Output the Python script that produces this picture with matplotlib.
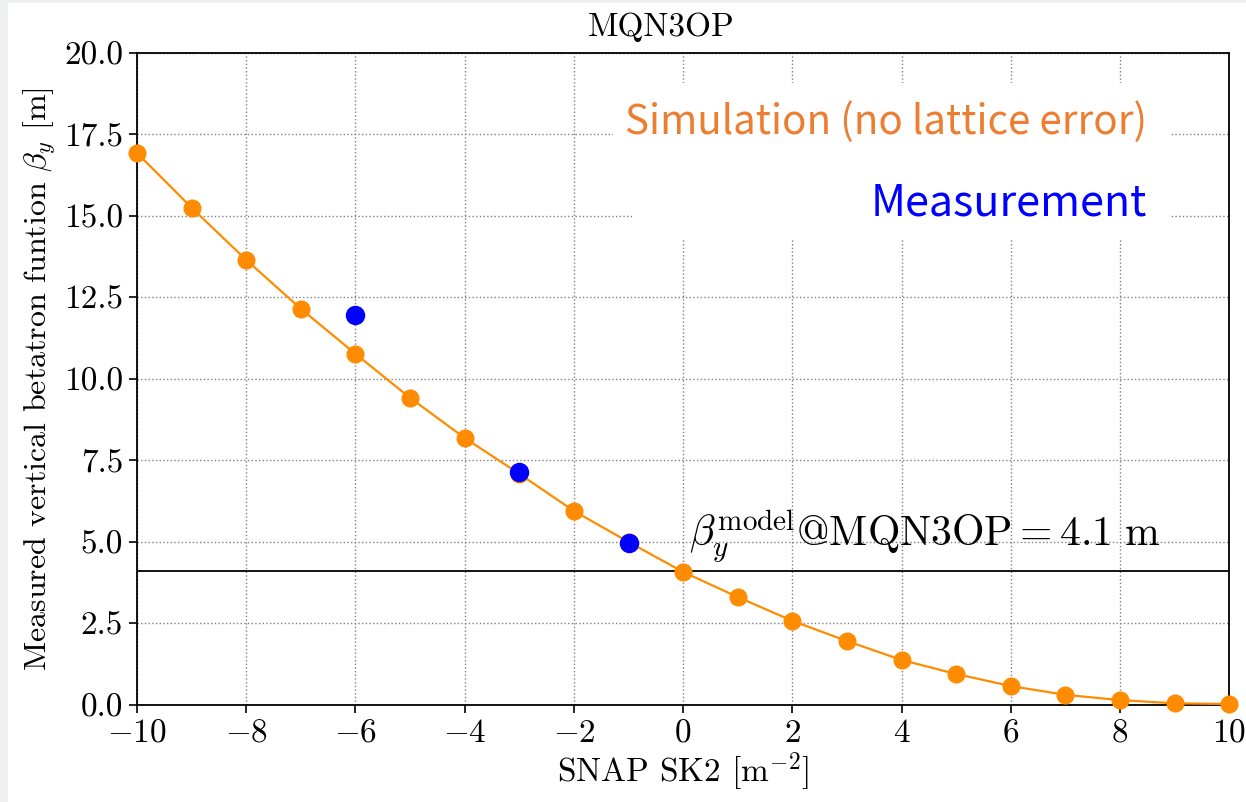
import matplotlib
matplotlib.use("Agg")
import matplotlib.pyplot as plt
from matplotlib.patches import Rectangle
import numpy as np

plt.rcParams['font.family'] = 'serif'
plt.rcParams['font.serif'] = ['cmr10']
plt.rcParams['mathtext.fontset'] = 'cm'
plt.rcParams['axes.formatter.use_mathtext'] = True
plt.rcParams['axes.unicode_minus'] = True

# SNAP SK2 strength scan
sk2 = [-10, -9, -8, -7, -6, -5, -4, -3, -2, -1, 0, 1, 2, 3, 4, 5, 6, 7, 8, 9, 10]
beta_sim = [16.93, 15.25, 13.65, 12.15, 10.77, 9.42, 8.19, 7.09, 5.95, 5.00, 4.08,
            3.31, 2.58, 1.96, 1.38, 0.95, 0.58, 0.31, 0.15, 0.05, 0.03]

sk2_meas = [-6, -3, -1]
beta_meas = [11.96, 7.15, 4.97]

beta_model = 4.1

fig = plt.figure(figsize=(12.46, 8.02), dpi=100)
fig.patch.set_facecolor('#eff0f2')
fig.patches.append(Rectangle((8 / 1246, 0), 1, 1 - 3 / 802, transform=fig.transFigure,
                             facecolor='white', edgecolor='none', zorder=-10))

ax = fig.add_axes([0.110, 0.121, 0.8765, 0.813])

ax.plot(sk2, beta_sim, '-', color='darkorange', lw=1.6, zorder=3)
ax.plot(sk2, beta_sim, 'o', color='darkorange', ms=12, zorder=4, clip_on=False)
ax.plot(sk2_meas, beta_meas, 'o', color='blue', ms=13, zorder=5)
ax.axhline(beta_model, color='black', lw=1.3, zorder=2)

ax.set_xlim(-10, 10)
ax.set_ylim(0, 20)
ax.set_xticks(np.arange(-10, 11, 2))
ax.set_yticks(np.arange(0, 20.1, 2.5))
ax.yaxis.set_major_formatter(matplotlib.ticker.FormatStrFormatter('%.1f'))
ax.tick_params(labelsize=24, direction='out', length=6, width=1.2, pad=4)
for s in ax.spines.values():
    s.set_linewidth(1.3)
ax.grid(True, linestyle=':', color='grey', lw=1.0)

ax.set_title('MQN3OP', fontsize=24, pad=12, x=0.48)
ax.set_xlabel(r'SNAP SK2 [m$^{-2}$]', fontsize=24, labelpad=2)
ax.set_ylabel(r'Measured vertical betatron funtion $\beta_y$ [m]', fontsize=23, labelpad=4)

ax.text(0.1, 4.85, r'$\beta_y^{\rm model}{\rm @MQN3OP} = 4.1\ {\rm m}$', fontsize=30,
        ha='left', va='baseline', zorder=6)

# overlaid labels (slide text boxes)
for x0, x1, y0, y1 in [(613, 1171, 83, 166), (632, 1171, 166, 240)]:
    fig.patches.append(Rectangle((x0 / 1246, 1 - y1 / 802), (x1 - x0) / 1246, (y1 - y0) / 802,
                                 transform=fig.transFigure, facecolor='white',
                                 edgecolor='none', zorder=5))
fig.text(1147 / 1246, 1 - 122 / 802, 'Simulation (no lattice error)', color='#ed7d31',
         fontsize=29, family=['Noto Sans CJK JP', 'DejaVu Sans'],
         ha='right', va='center', zorder=6)
fig.text(1147 / 1246, 1 - 203 / 802, 'Measurement', color='#0000ff',
         fontsize=31, family=['Noto Sans CJK JP', 'DejaVu Sans'],
         ha='right', va='center', zorder=6)

fig.savefig('out.png', dpi=100, facecolor=fig.get_facecolor())
